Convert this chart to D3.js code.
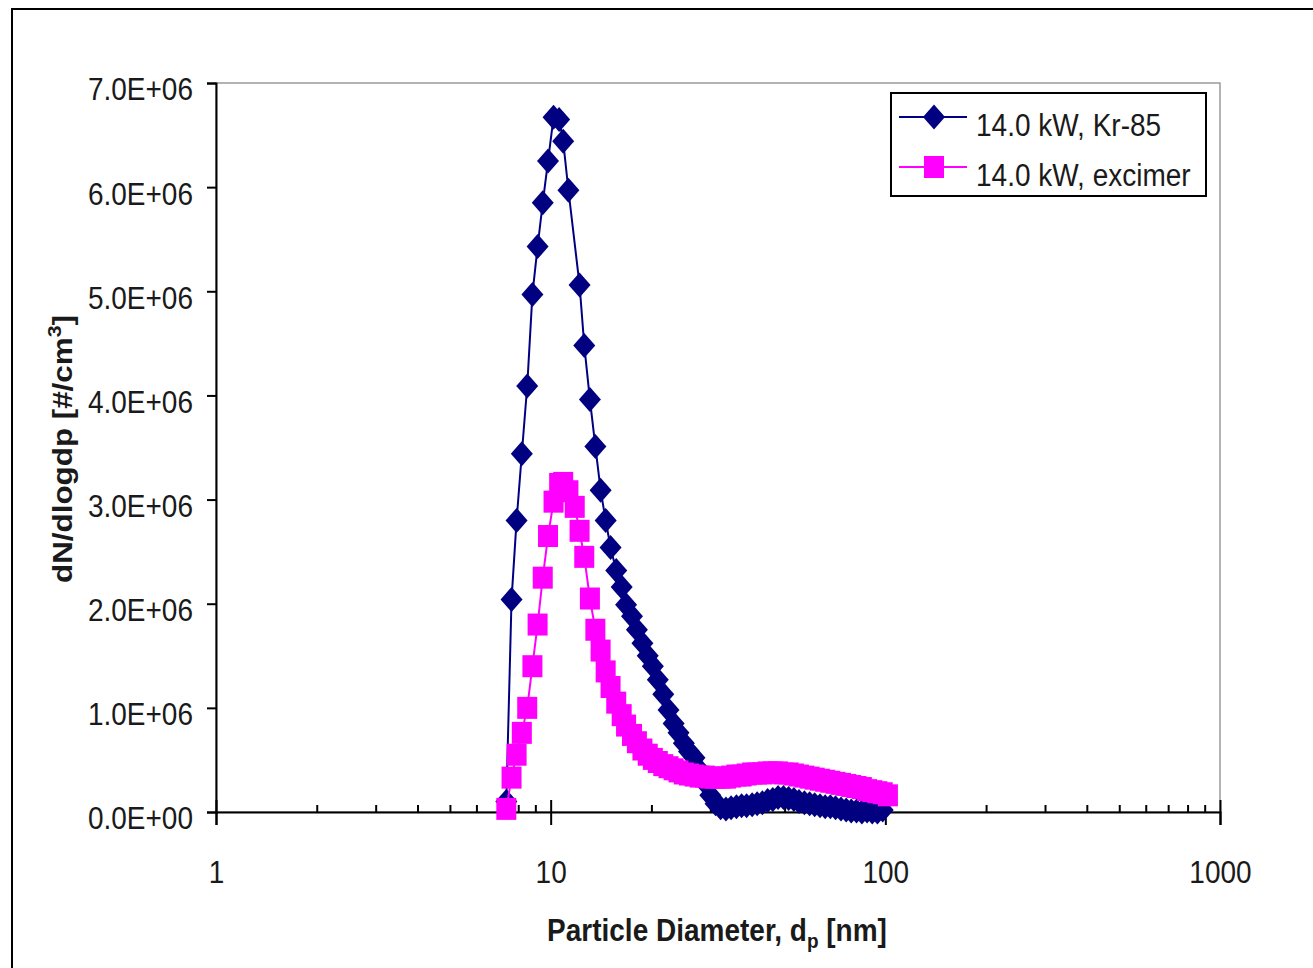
<!DOCTYPE html>
<html>
<head>
<meta charset="utf-8">
<script src="https://cdnjs.cloudflare.com/ajax/libs/d3/7.8.5/d3.min.js"></script>
<style>
  body { margin: 0; background: #fff; }
  svg { display: block; font-family: "Liberation Sans", Arial, sans-serif; }
  .tall { transform-box: fill-box; transform-origin: center; transform: scaleY(1.1); }
  .wide { transform-box: fill-box; transform-origin: center; transform: scaleX(1.12); }
</style>
</head>
<body>
<div id="chart"></div>
<script>
// Kr-85 series: particle diameter [nm] and dN/dlogdp [#/cm3]
var krDiam = [7.37, 7.64, 7.91, 8.20, 8.51, 8.82, 9.14, 9.47, 9.82, 10.2, 10.6, 10.9, 11.3,
  12.2, 12.6, 13.1, 13.6, 14.1, 14.6, 15.1, 15.7, 16.3, 16.8, 17.5, 18.1, 18.8, 19.5, 20.2,
  20.9, 21.7, 22.5, 23.3, 24.1, 25.0, 25.9, 26.9, 27.9, 28.9, 30.0, 31.1, 32.2, 33.4, 34.6,
  35.9, 37.2, 38.5, 40.0, 41.4, 42.9, 44.5, 46.1, 47.8, 49.6, 51.4, 53.3, 55.2, 57.3, 59.4,
  61.5, 63.8, 66.1, 68.5, 71.0, 73.7, 76.4, 79.1, 82.0, 85.1, 88.2, 91.4, 94.7, 98.2];
var krConc = [0.10e6, 2.04e6, 2.80e6, 3.44e6, 4.09e6, 4.97e6, 5.43e6, 5.85e6, 6.25e6, 6.67e6,
  6.65e6, 6.44e6, 5.97e6, 5.06e6, 4.48e6, 3.96e6, 3.51e6, 3.09e6, 2.80e6, 2.54e6, 2.32e6,
  2.16e6, 1.99e6, 1.88e6, 1.75e6, 1.62e6, 1.50e6, 1.40e6, 1.27e6, 1.13e6, 0.98e6, 0.85e6,
  0.76e6, 0.66e6, 0.58e6, 0.52e6, 0.40e6, 0.28e6, 0.16e6, 0.08e6, 0.04e6, 0.03e6, 0.04e6,
  0.05e6, 0.06e6, 0.06e6, 0.07e6, 0.08e6, 0.09e6, 0.11e6, 0.12e6, 0.14e6, 0.14e6, 0.13e6,
  0.12e6, 0.10e6, 0.09e6, 0.08e6, 0.07e6, 0.06e6, 0.05e6, 0.05e6, 0.04e6, 0.03e6, 0.02e6,
  0.01e6, 0.01e6, 0.0, 0.01e6, 0.0, 0.0, 0.02e6];

// excimer series
var exDiam = [7.37, 7.64, 7.91, 8.20, 8.51, 8.82, 9.14, 9.47, 9.82, 10.2, 10.6, 10.9, 11.3,
  11.8, 12.2, 12.6, 13.1, 13.6, 14.1, 14.6, 15.1, 15.7, 16.3, 16.8, 17.5, 18.1, 18.8, 19.5,
  20.2, 20.9, 21.7, 22.5, 23.3, 24.1, 25.0, 25.9, 26.9, 27.9, 28.9, 30.0, 31.1, 32.2, 33.4,
  34.6, 35.9, 37.2, 38.5, 40.0, 41.4, 42.9, 44.5, 46.1, 47.8, 49.6, 51.4, 53.3, 55.2, 57.3,
  59.4, 61.5, 63.8, 66.1, 68.5, 71.0, 73.7, 76.4, 79.1, 82.0, 85.1, 88.2, 91.4, 94.7, 98.2, 101.8];
var exConc = [0.03e6, 0.33e6, 0.55e6, 0.76e6, 1.00e6, 1.40e6, 1.80e6, 2.25e6, 2.65e6, 2.98e6,
  3.15e6, 3.16e6, 3.08e6, 2.93e6, 2.70e6, 2.45e6, 2.05e6, 1.75e6, 1.55e6, 1.35e6, 1.20e6,
  1.05e6, 0.93e6, 0.83e6, 0.74e6, 0.67e6, 0.60e6, 0.55e6, 0.51e6, 0.48e6, 0.45e6, 0.43e6,
  0.41e6, 0.39e6, 0.37e6, 0.36e6, 0.35e6, 0.34e6, 0.34e6, 0.33e6, 0.33e6, 0.33e6, 0.33e6,
  0.34e6, 0.35e6, 0.35e6, 0.36e6, 0.37e6, 0.37e6, 0.37e6, 0.38e6, 0.38e6, 0.38e6, 0.37e6,
  0.37e6, 0.36e6, 0.35e6, 0.34e6, 0.33e6, 0.32e6, 0.31e6, 0.30e6, 0.29e6, 0.28e6, 0.27e6,
  0.26e6, 0.25e6, 0.24e6, 0.23e6, 0.21e6, 0.20e6, 0.19e6, 0.18e6, 0.16e6];

// axis ticks
var xTicks = [1, 10, 100, 1000];
var yTicks = [0, 1e6, 2e6, 3e6, 4e6, 5e6, 6e6, 7e6];
var seriesNames = ["14.0 kW, Kr-85", "14.0 kW, excimer"];

var width = 1313, height = 968;
var margin = {left: 216, right: 93, top: 83, bottom: 156};

var svg = d3.select("#chart").append("svg")
    .attr("width", width)
    .attr("height", height);

// outer chart frame
svg.append("rect")
    .attr("x", 12).attr("y", 9)
    .attr("width", 1330).attr("height", 1000)
    .attr("fill", "none")
    .attr("stroke", "#000")
    .attr("stroke-width", 2);

var x = d3.scaleLog()
    .domain([1, 1000])
    .range([margin.left, width - margin.right]);

var y = d3.scaleLinear()
    .domain([0, 7e6])
    .range([height - margin.bottom, margin.top]);

// plot area border (grey on top/right)
svg.append("rect")
    .attr("x", x(1)).attr("y", y(7e6))
    .attr("width", x(1000) - x(1)).attr("height", y(0) - y(7e6))
    .attr("fill", "none")
    .attr("stroke", "#9a9a9a")
    .attr("stroke-width", 1.5);

// format like 7.0E+06
function sci(d) {
    if (d === 0) return "0.0E+00";
    var e = Math.floor(Math.log10(d));
    var m = d / Math.pow(10, e);
    return m.toFixed(1) + "E+" + (e < 10 ? "0" + e : e);
}

// y axis
var yAxis = d3.axisLeft(y)
    .tickValues(yTicks)
    .tickSize(9)
    .tickPadding(14)
    .tickFormat(sci);

var gy = svg.append("g")
    .attr("transform", "translate(" + x(1) + ",0)")
    .call(yAxis);
gy.select(".domain").attr("stroke", "#000").attr("stroke-width", 2);
gy.selectAll(".tick line").attr("stroke", "#000").attr("stroke-width", 2);
gy.selectAll(".tick text")
    .attr("class", "tall")
    .attr("font-size", 28)
    .attr("fill", "#1a1a1a")
    .attr("y", 7)
    .style("font-family", "'Liberation Sans', Arial, sans-serif");

// minor x ticks (inside, upward)
var minors = [];
[1, 10, 100].forEach(function(b) {
    for (var k = 2; k <= 9; k++) minors.push(b * k);
});
var gMinor = svg.append("g")
    .attr("transform", "translate(0," + y(0) + ")")
    .call(d3.axisBottom(x).tickValues(minors).tickSize(-7).tickFormat(""));
gMinor.select(".domain").remove();
gMinor.selectAll(".tick line").attr("stroke", "#000").attr("stroke-width", 2);

// major x axis
var xAxis = d3.axisBottom(x)
    .tickValues(xTicks)
    .tickSize(13)
    .tickFormat(d3.format("d"));

var gx = svg.append("g")
    .attr("transform", "translate(0," + y(0) + ")")
    .call(xAxis);
gx.select(".domain").attr("stroke", "#000").attr("stroke-width", 2);
gx.selectAll(".tick line").attr("y1", -12).attr("stroke", "#000").attr("stroke-width", 2);
gx.selectAll(".tick text")
    .attr("class", "tall")
    .attr("font-size", 28)
    .attr("fill", "#1a1a1a")
    .attr("y", 70)
    .attr("dy", 0)
    .style("font-family", "'Liberation Sans', Arial, sans-serif");

// axis titles
var xt = svg.append("text")
    .attr("class", "tall")
    .attr("x", 717).attr("y", 940)
    .attr("text-anchor", "middle")
    .attr("font-size", 28)
    .attr("font-weight", "bold")
    .attr("fill", "#1a1a1a");
xt.append("tspan").text("Particle Diameter, d");
xt.append("tspan").attr("font-size", 19).attr("dy", 7).text("p");
xt.append("tspan").attr("dy", -7).text(" [nm]");

var yt = svg.append("g")
    .attr("transform", "translate(72,449) rotate(-90)")
    .append("text")
    .attr("class", "wide")
    .attr("text-anchor", "middle")
    .attr("font-size", 28)
    .attr("font-weight", "bold")
    .attr("fill", "#1a1a1a");
yt.append("tspan").text("dN/dlogdp  [#/cm");
yt.append("tspan").attr("font-size", 19).attr("dy", -11).text("3");
yt.append("tspan").attr("dy", 11).text("]");

// series
var krData = krDiam.map(function(d, i) { return {d: d, n: krConc[i]}; });
var exData = exDiam.map(function(d, i) { return {d: d, n: exConc[i]}; });

var line = d3.line()
    .x(function(d) { return x(d.d); })
    .y(function(d) { return y(d.n); });

var navy = "#000080", magenta = "#ff00ff";
var diamondPath = "M0,-12.5L11,0L0,12.5L-11,0Z";

svg.append("path")
    .datum(krData)
    .attr("d", line)
    .attr("fill", "none")
    .attr("stroke", navy)
    .attr("stroke-width", 2);

svg.append("g").selectAll("path")
    .data(krData)
    .enter()
    .append("path")
    .attr("d", diamondPath)
    .attr("transform", function(d) { return "translate(" + x(d.d) + "," + y(d.n) + ")"; })
    .attr("fill", navy);

svg.append("path")
    .datum(exData)
    .attr("d", line)
    .attr("fill", "none")
    .attr("stroke", magenta)
    .attr("stroke-width", 2);

svg.append("g").selectAll("rect")
    .data(exData)
    .enter()
    .append("rect")
    .attr("x", function(d) { return x(d.d) - 10; })
    .attr("y", function(d) { return y(d.n) - 11; })
    .attr("width", 20)
    .attr("height", 22)
    .attr("fill", magenta);

// legend
var legend = svg.append("g").attr("transform", "translate(891,93)");
legend.append("rect")
    .attr("width", 315).attr("height", 103)
    .attr("fill", "#fff")
    .attr("stroke", "#000")
    .attr("stroke-width", 2);

var rows = legend.selectAll("g.row")
    .data(seriesNames)
    .enter()
    .append("g")
    .attr("class", "row")
    .attr("transform", function(d, i) { return "translate(0," + (24 + i * 50) + ")"; });

rows.append("line")
    .attr("x1", 8).attr("x2", 76)
    .attr("stroke", function(d, i) { return i === 0 ? navy : magenta; })
    .attr("stroke-width", 2);

rows.each(function(d, i) {
    var g = d3.select(this);
    if (i === 0) {
        g.append("path").attr("d", diamondPath)
            .attr("transform", "translate(43,0)")
            .attr("fill", navy);
    } else {
        g.append("rect").attr("x", 33).attr("y", -11)
            .attr("width", 20).attr("height", 22)
            .attr("fill", magenta);
    }
});

rows.append("text")
    .attr("class", "tall")
    .attr("x", 85)
    .attr("y", 18)
    .attr("font-size", 28)
    .attr("fill", "#1a1a1a")
    .text(function(d) { return d; });
</script>
</body>
</html>
